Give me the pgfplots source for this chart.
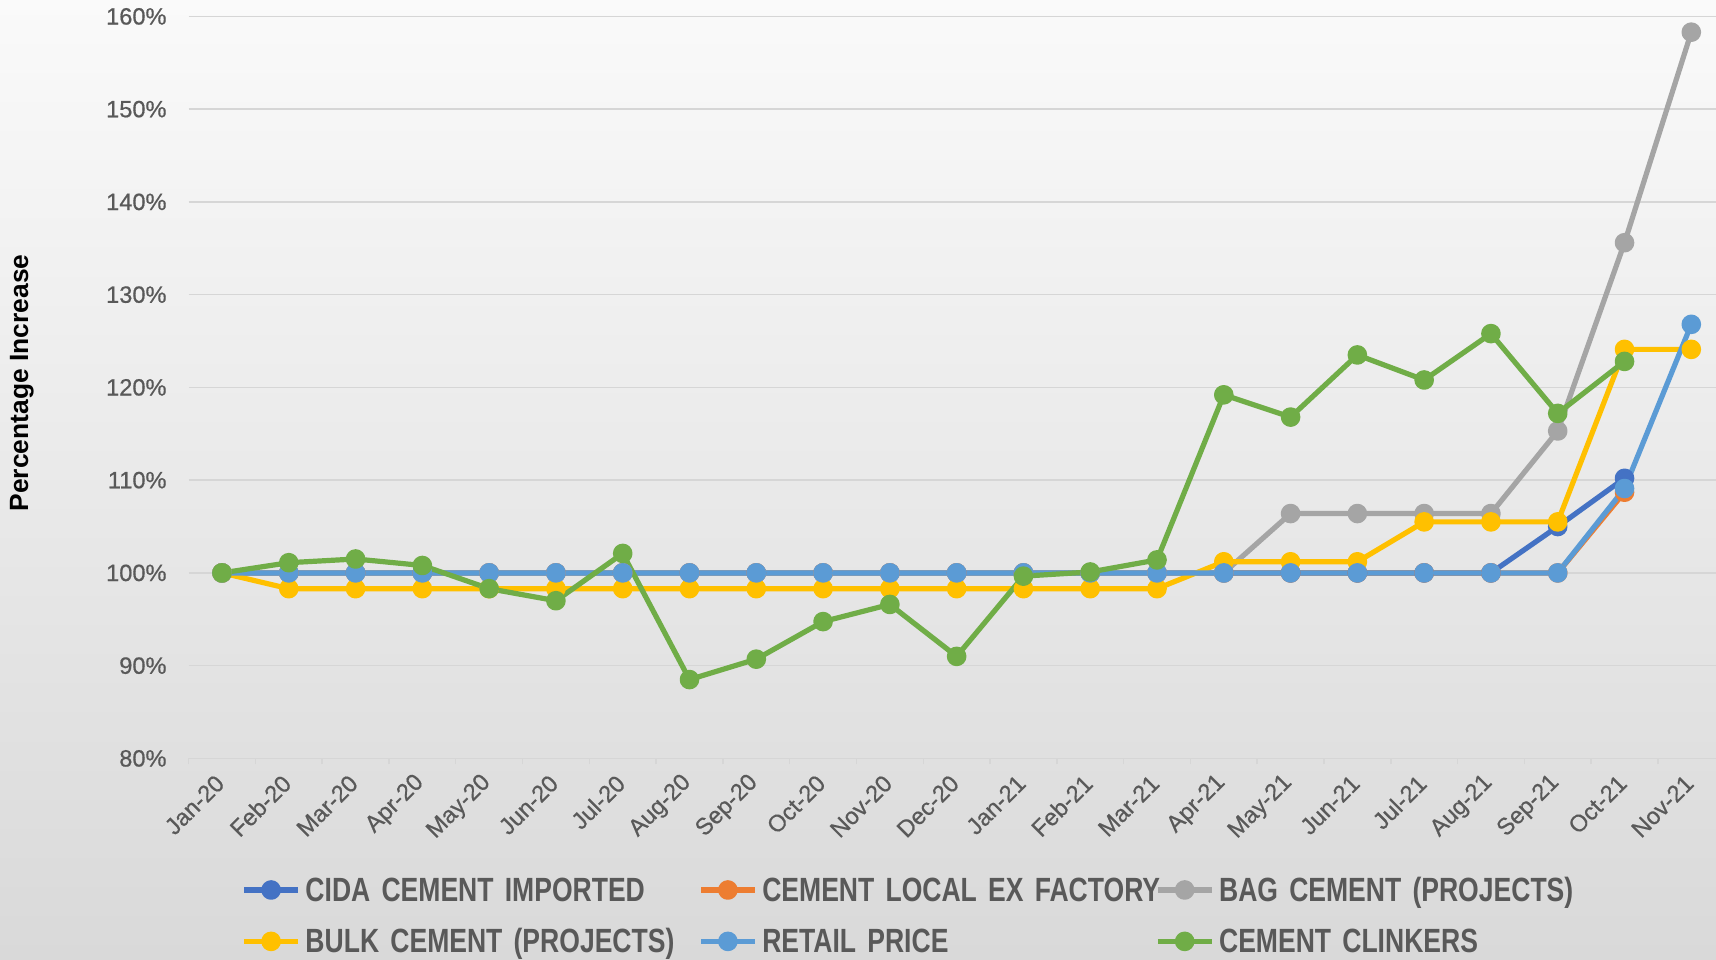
\documentclass[border=0pt]{standalone}
\usepackage{fontspec}
\setmainfont{Liberation Sans}
\newfontfamily\legfont[FakeStretch=0.79, WordSpace=0.7]{Liberation Sans}
\newfontfamily\tickfont[FakeBold=0.6]{Liberation Sans}
\usepackage{pgfplots}
\pgfplotsset{compat=1.18}
\usetikzlibrary{backgrounds}
\definecolor{cida}{HTML}{4472C4}
\definecolor{loc}{HTML}{ED7D31}
\definecolor{bag}{HTML}{A5A5A5}
\definecolor{bulk}{HTML}{FFC000}
\definecolor{retail}{HTML}{5B9BD5}
\definecolor{clink}{HTML}{70AD47}
\definecolor{txt}{HTML}{595959}
\definecolor{gridc}{HTML}{D6D6D6}
\definecolor{bgtop}{HTML}{FAFAFA}
\definecolor{bgbot}{HTML}{D9D9D9}
\begin{document}
\begin{tikzpicture}
\begin{axis}[
  scale only axis, width=763.7pt, height=371pt,
  at={(0,0)}, anchor=south west,
  xmin=-0.5, xmax=22.37, ymin=80, ymax=160,
  axis x line*=bottom, axis y line*=left, axis line style={draw=none},
  xtick={0,...,22},
  xticklabels={Jan-20,Feb-20,Mar-20,Apr-20,May-20,Jun-20,Jul-20,Aug-20,Sep-20,Oct-20,Nov-20,Dec-20,Jan-21,Feb-21,Mar-21,Apr-21,May-21,Jun-21,Jul-21,Aug-21,Sep-21,Oct-21,Nov-21},
  minor xtick={-0.5,0.5,1.5,2.5,3.5,4.5,5.5,6.5,7.5,8.5,9.5,10.5,11.5,12.5,13.5,14.5,15.5,16.5,17.5,18.5,19.5,20.5,21.5},
  major tick length=0pt, minor tick length=3pt, tick align=outside,
  minor x tick style={gridc, line width=0.75pt},
  ytick={80,90,...,160},
  ymajorgrids, major grid style={gridc, line width=0.75pt},
  yticklabel={\pgfmathprintnumber{\tick}\%},
  /pgf/number format/assume math mode=true,
  ticklabel style={font=\tickfont\fontsize{11.8}{13}\selectfont, text=txt},
  yticklabel style={xshift=-7.5pt},
  xticklabel style={xshift=1.5pt, yshift=-8pt, rotate=45, anchor=east},
  ylabel={Percentage Increase},
  every axis y label/.style={at={(axis description cs:-0.1092,0.506)}, rotate=90, anchor=center, font=\bfseries\fontsize{13.2}{15}\selectfont, text=black},
  every axis plot/.append style={line width=2.6pt, mark=*, mark size=3.6pt, line join=round},
  legend columns=3,
  legend cell align=left,
  legend image code/.code={\draw[mark repeat=2,mark phase=2,#1] plot coordinates {(0pt,0pt) (13.4pt,0pt) (26.8pt,0pt)};},
  legend style={at={(axis description cs:0.0345,-0.1559)}, anchor=north west, draw=none, fill=none, inner sep=0pt, row sep=10.2pt, column sep=0pt,
    font=\legfont\bfseries\fontsize{16.8}{18}\selectfont, text=txt,
    nodes={inner xsep=2.5pt, inner ysep=0pt, text width=194pt, align=left, text height=13.5pt, text depth=2pt}},
]
\addplot[color=cida] coordinates {(0,100) (1,100) (2,100) (3,100) (4,100) (5,100) (6,100) (7,100) (8,100) (9,100) (10,100) (11,100) (12,100) (13,100) (14,100) (15,100) (16,100) (17,100) (18,100) (19,100) (20,105.0) (21,110.2)};
\addlegendentry{\mbox{CIDA CEMENT IMPORTED}}
\addplot[color=loc] coordinates {(0,100) (1,100) (2,100) (3,100) (4,100) (5,100) (6,100) (7,100) (8,100) (9,100) (10,100) (11,100) (12,100) (13,100) (14,100) (15,100) (16,100) (17,100) (18,100) (19,100) (20,100) (21,108.7)};
\addlegendentry{\mbox{CEMENT LOCAL EX FACTORY}}
\addplot[color=bag] coordinates {(0,100) (1,100) (2,100) (3,100) (4,100) (5,100) (6,100) (7,100) (8,100) (9,100) (10,100) (11,100) (12,100) (13,100) (14,100) (15,100) (16,106.4) (17,106.4) (18,106.4) (19,106.4) (20,115.3) (21,135.6) (22,158.3)};
\addlegendentry{\mbox{BAG CEMENT (PROJECTS)}}
\addplot[color=bulk] coordinates {(0,100) (1,98.3) (2,98.3) (3,98.3) (4,98.3) (5,98.3) (6,98.3) (7,98.3) (8,98.3) (9,98.3) (10,98.3) (11,98.3) (12,98.3) (13,98.3) (14,98.3) (15,101.2) (16,101.2) (17,101.2) (18,105.5) (19,105.5) (20,105.5) (21,124.1) (22,124.1)};
\addlegendentry{\mbox{BULK CEMENT (PROJECTS)}}
\addplot[color=retail] coordinates {(0,100) (1,100) (2,100) (3,100) (4,100) (5,100) (6,100) (7,100) (8,100) (9,100) (10,100) (11,100) (12,100) (13,100) (14,100) (15,100) (16,100) (17,100) (18,100) (19,100) (20,100) (21,109.1) (22,126.8)};
\addlegendentry{\mbox{RETAIL PRICE}}
\addplot[color=clink] coordinates {(0,100) (1,101.1) (2,101.5) (3,100.8) (4,98.3) (5,97.0) (6,102.1) (7,88.5) (8,90.7) (9,94.75) (10,96.6) (11,91.0) (12,99.65) (13,100.1) (14,101.4) (15,119.2) (16,116.8) (17,123.5) (18,120.8) (19,125.8) (20,117.2) (21,122.8)};
\addlegendentry{\mbox{CEMENT CLINKERS}}
\end{axis}
\begin{pgfonlayer}{background}
\shade[top color=bgtop, bottom color=bgbot] (-94.3pt,-100.3pt) rectangle (763.7pt,379.2pt);
\end{pgfonlayer}
\pgfresetboundingbox
\path[use as bounding box] (-94.3pt,-100.3pt) rectangle (763.7pt,379.2pt);
\end{tikzpicture}
\end{document}
